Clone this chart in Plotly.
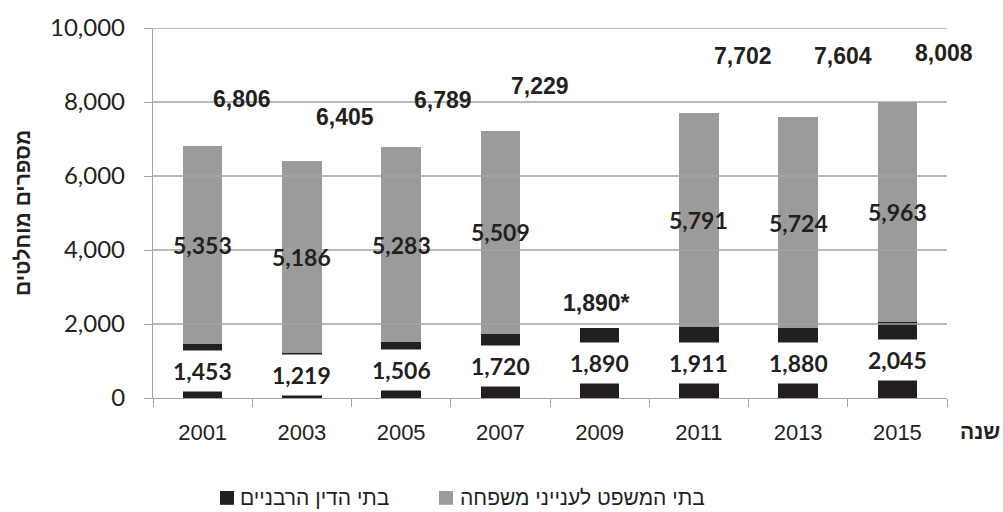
import plotly.graph_objects as go

# Cases by year and court type
years = ["2001", "2003", "2005", "2007", "2009", "2011", "2013", "2015"]
rabbinical = [1453, 1219, 1506, 1720, 1890, 1911, 1880, 2045]
family = [5353, 5186, 5283, 5509, None, 5791, 5724, 5963]
total_marks = ["", "", "", "", "*", "", "", ""]

y_ticks = [0, 2000, 4000, 6000, 8000, 10000]

# Pixel offsets for the total labels above each bar
total_dx = [39, 43, 42, 40, -3, 44, 45, 47]
total_dy = [47, 44, 47, 45, 25, 57, 61, 49]

GREY = "#9b9b9b"
BLACK = "#231f20"
LINE = "#a3a3a3"
TEXT = "#231f20"

fig = go.Figure()
fig.add_trace(go.Bar(x=years, y=rabbinical, marker_color=BLACK, marker_line_width=0,
                     name="בתי הדין הרבניים", showlegend=False, hoverinfo="skip"))
fig.add_trace(go.Bar(x=years, y=family, marker_color=GREY, marker_line_width=0,
                     name="בתי המשפט לענייני משפחה", showlegend=False, hoverinfo="skip"))

# Gridlines drawn over the bars
for v in y_ticks[1:]:
    fig.add_shape(type="line", xref="paper", yref="y", x0=0, x1=1, y0=v, y1=v,
                  line=dict(color=LINE, width=1.3), layer="above")

annotations = []
for i, yr in enumerate(years):
    r = rabbinical[i]
    f = family[i]
    # category index used as the x position
    # rabbinical value label in a white box at the middle of the black segment
    annotations.append(dict(x=i, y=r / 2, xref="x", yref="y", text=f"{r:,}",
                            showarrow=False, bgcolor="white", height=38,
                            font=dict(family="Lato", size=23, color=TEXT, weight="bold")))
    total = r + (f or 0)
    if f:
        annotations.append(dict(x=i, y=r + f / 2, xref="x", yref="y", text=f"{f:,}",
                                showarrow=False,
                                font=dict(family="Lato", size=23, color=TEXT, weight="bold")))
    annotations.append(dict(x=i, y=total, xref="x", yref="y",
                            text=f"{total:,}{total_marks[i]}", showarrow=False,
                            xshift=total_dx[i], yshift=total_dy[i],
                            font=dict(family="Liberation Sans", size=23, color=TEXT, weight="bold")))

# Axis titles
annotations.append(dict(x=-0.165, y=0.5, xref="paper", yref="paper", text="מספרים מוחלטים",
                        textangle=-90, showarrow=False, xanchor="center", yanchor="middle",
                        font=dict(family="Liberation Sans", size=21, color=TEXT, weight="bold")))
annotations.append(dict(x=1.069, y=-0.091, xref="paper", yref="paper", text="שנה",
                        xanchor="right", yanchor="middle", showarrow=False,
                        font=dict(family="Liberation Sans", size=21, color=TEXT, weight="bold")))

# Legend
legend_y = -0.27
annotations.append(dict(x=0.1075, y=legend_y, xref="paper", yref="paper", text="בתי הדין הרבניים",
                        xanchor="left", yanchor="middle", showarrow=False,
                        font=dict(family="Liberation Sans", size=21, color=TEXT)))
annotations.append(dict(x=0.384, y=legend_y, xref="paper", yref="paper",
                        text="בתי המשפט לענייני משפחה", xanchor="left", yanchor="middle",
                        showarrow=False,
                        font=dict(family="Liberation Sans", size=21, color=TEXT)))
fig.add_shape(type="rect", xref="paper", yref="paper", x0=0.0844, x1=0.1020,
              y0=legend_y - 0.0187, y1=legend_y + 0.0187, fillcolor=BLACK, line_width=0)
fig.add_shape(type="rect", xref="paper", yref="paper", x0=0.3602, x1=0.3778,
              y0=legend_y - 0.0187, y1=legend_y + 0.0187, fillcolor=GREY, line_width=0)

fig.update_layout(
    barmode="stack",
    bargap=0.6,
    width=1003, height=512,
    margin=dict(l=153, r=56, t=24, b=114),
    paper_bgcolor="white", plot_bgcolor="white",
    annotations=annotations,
    showlegend=False,
)
fig.update_xaxes(type="category", range=[-0.5, 7.5], showline=True, linecolor=LINE, linewidth=1.3,
                 ticks="outside", tickson="boundaries", ticklen=8, tickcolor=LINE,
                 ticklabelstandoff=14,
                 tickfont=dict(family="Liberation Sans", size=22, color=TEXT),
                 showgrid=False, fixedrange=True)
fig.update_yaxes(range=[0, 10000], tickvals=y_ticks, tickformat=",", showline=True,
                 linecolor=LINE, linewidth=1.3, ticks="outside", ticklen=8, tickcolor=LINE,
                 ticklabelstandoff=14,
                 tickfont=dict(family="Lato", size=24, color=TEXT),
                 showgrid=False, zeroline=False, fixedrange=True)

fig.write_html("out.html")
